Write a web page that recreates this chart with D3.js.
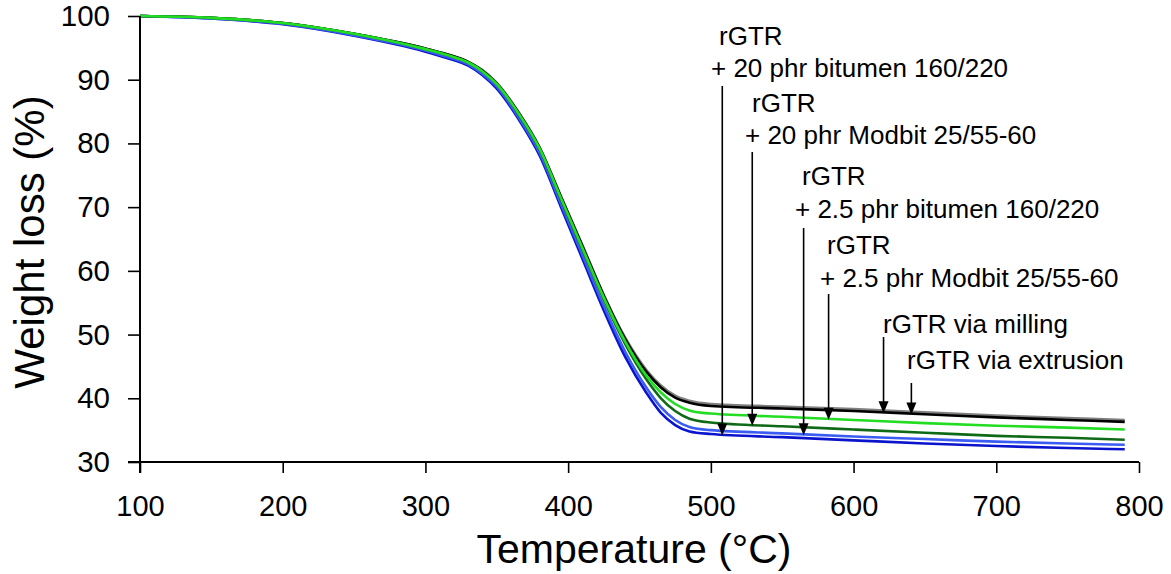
<!DOCTYPE html>
<html>
<head>
<meta charset="utf-8">
<script src="https://cdn.jsdelivr.net/npm/d3@7"></script>
<style>
  html, body { margin: 0; padding: 0; background: #fff; }
  svg { display: block; font-family: "Liberation Sans", Arial, sans-serif; }
</style>
</head>
<body>
<svg id="chart" width="1171" height="574"></svg>
<script>
// ---- data ----
const temperatures = [100,150,200,250,300,315,330,340,350,365,380,395,410,425,440,455,465,475,485,500,550,600,650,700,750,790];
const seriesNames = [
  "rGTR via milling",
  "rGTR via extrusion",
  "rGTR + 20 phr bitumen 160/220",
  "rGTR + 2.5 phr bitumen 160/220",
  "rGTR + 20 phr Modbit 25/55-60",
  "rGTR + 2.5 phr Modbit 25/55-60"
];
const millingValues   = [100,99.7,98.9,97.2,94.9,94.0,92.8,91.5,89.5,85.0,79.4,71.7,64.0,56.2,49.5,44.4,42.0,40.4,39.6,39.1,38.7,38.3,37.8,37.3,36.9,36.6];
const extrusionValues = [100,99.7,98.9,97.2,94.9,94.0,92.8,91.4,89.4,84.9,79.3,71.6,63.9,56.1,49.3,44.1,41.7,40.1,39.3,38.8,38.4,38.0,37.5,37.0,36.6,36.3];
const bit20Values     = [100,99.6,98.7,96.9,94.4,93.4,92.2,90.7,88.6,83.9,78.1,70.0,61.9,53.8,46.5,40.8,37.7,35.8,34.8,34.4,33.9,33.4,32.9,32.5,32.2,32.0];
const bit25Values     = [100,99.6,98.8,97.0,94.6,93.6,92.4,90.9,88.9,84.2,78.5,70.5,62.5,54.5,47.3,41.6,38.6,36.6,35.5,35.0,34.5,34.0,33.6,33.2,32.9,32.7];
const mod20Values     = [100,99.7,98.9,97.2,94.8,93.9,92.7,91.3,89.3,84.7,79.1,71.2,63.4,55.5,48.5,42.9,40.0,38.0,36.8,36.2,35.6,35.1,34.6,34.1,33.8,33.5];
const mod25Values     = [100,99.7,98.9,97.2,94.8,93.9,92.7,91.3,89.3,84.8,79.2,71.4,63.6,55.8,48.9,43.5,40.9,39.1,38.1,37.6,37.1,36.6,36.1,35.7,35.4,35.1];
const seriesValues = [millingValues, extrusionValues, bit20Values, bit25Values, mod20Values, mod25Values];

const xTicks = [100,200,300,400,500,600,700,800];
const yTicks = [30,40,50,60,70,80,90,100];

// annotation: label lines, series index the arrow points to, arrow temperature
const annoLines = [
  ["rGTR", "+ 20 phr bitumen 160/220"],
  ["rGTR", "+ 20 phr Modbit 25/55-60"],
  ["rGTR", "+ 2.5 phr bitumen 160/220"],
  ["rGTR", "+ 2.5 phr Modbit 25/55-60"],
  ["rGTR via milling"],
  ["rGTR via extrusion"]
];
const annoSeries = [2, 4, 3, 5, 1, 1];
const annoTemps = [508, 529, 565, 582.5, 621, 640.5];

// ---- drawing ----
const svg = d3.select("#chart");
svg.append("rect").attr("width", 1171).attr("height", 574).attr("fill", "#fff");

const x = d3.scaleLinear().domain([100, 800]).range([140, 1139]);
const y = d3.scaleLinear().domain([30, 100]).range([462, 16]);

const colors = ["#808080", "#000000", "#0a14cc", "#3a5cf2", "#0e6a16", "#22dd22"];
const drawOrder = [0, 1, 2, 3, 4, 5];

const line = d3.line()
  .x(d => x(d[0]))
  .y(d => y(d[1]))
  .curve(d3.curveMonotoneX);

drawOrder.forEach(i => {
  const pts = temperatures.map((t, k) => [t, seriesValues[i][k]]);
  svg.append("path")
    .attr("d", line(pts))
    .attr("fill", "none")
    .attr("stroke", colors[i])
    .attr("stroke-width", 2.6)
    .attr("stroke-linejoin", "round");
});

// axes
const xAxis = d3.axisBottom(x).tickValues(xTicks).tickSize(11).tickPadding(22).tickSizeOuter(0);
const gx = svg.append("g").attr("transform", "translate(0,462)").call(xAxis);
gx.select(".domain").attr("stroke", "#000").attr("stroke-width", 2).attr("d", "M128,0H1139");
gx.selectAll(".tick line").attr("stroke", "#000").attr("stroke-width", 1.6);
gx.selectAll(".tick text").attr("font-size", 29).attr("fill", "#000")
  .attr("font-family", "'Liberation Sans', Arial, sans-serif");

const yAxis = d3.axisLeft(y).tickValues(yTicks).tickSize(12).tickPadding(18).tickSizeOuter(0);
const gy = svg.append("g").attr("transform", "translate(140,0)").call(yAxis);
gy.select(".domain").attr("stroke", "#000").attr("stroke-width", 2).attr("d", "M0,16V473");
gy.selectAll(".tick line").attr("stroke", "#000").attr("stroke-width", 1.6);
gy.selectAll(".tick text").attr("font-size", 29.5).attr("fill", "#000")
  .attr("font-family", "'Liberation Sans', Arial, sans-serif");

// axis titles
svg.append("text")
  .attr("x", 634).attr("y", 563)
  .attr("text-anchor", "middle")
  .attr("font-size", 41)
  .attr("fill", "#000")
  .text("Temperature (°C)");

svg.append("text")
  .attr("transform", "translate(44,242) rotate(-90)")
  .attr("text-anchor", "middle")
  .attr("font-size", 42)
  .attr("fill", "#000")
  .text("Weight loss (%)");

// annotations
const labelLayout = [
  { lines: [[719, 45], [711, 77]], start: 86 },
  { lines: [[752, 112], [745, 144]], start: 152 },
  { lines: [[802, 185], [795, 218]], start: 228 },
  { lines: [[827, 254], [820, 287]], start: 294 },
  { lines: [[883, 333]], start: 337 },
  { lines: [[907, 369]], start: 383 }
];

annoLines.forEach((lines, i) => {
  const lay = labelLayout[i];
  lines.forEach((txt, j) => {
    svg.append("text")
      .attr("x", lay.lines[j][0]).attr("y", lay.lines[j][1])
      .attr("font-size", 26)
      .attr("fill", "#000")
      .text(txt);
  });
  const t = annoTemps[i];
  const idx = d3.bisectLeft(temperatures, t);
  const t0 = temperatures[idx - 1], t1 = temperatures[idx];
  const v0 = seriesValues[annoSeries[i]][idx - 1], v1 = seriesValues[annoSeries[i]][idx];
  const v = v0 + (v1 - v0) * (t - t0) / (t1 - t0);
  const ax = x(t), tipY = y(v) + 1;
  svg.append("line")
    .attr("x1", ax).attr("x2", ax)
    .attr("y1", lay.start).attr("y2", tipY - 10)
    .attr("stroke", "#000").attr("stroke-width", 1.6);
  svg.append("path")
    .attr("d", `M${ax - 5},${tipY - 12}L${ax + 5},${tipY - 12}L${ax},${tipY}Z`)
    .attr("fill", "#000");
});
</script>
</body>
</html>
